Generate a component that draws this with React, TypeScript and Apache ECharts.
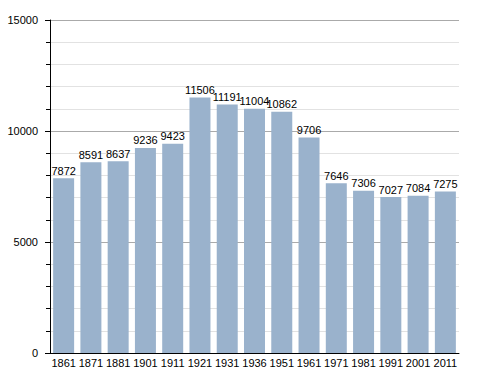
import React, { useEffect, useRef } from "react";
import * as echarts from "echarts";

const categories = ["1861", "1871", "1881", "1901", "1911", "1921", "1931", "1936", "1951", "1961", "1971", "1981", "1991", "2001", "2011"];
const population = [7872, 8591, 8637, 9236, 9423, 11506, 11191, 11004, 10862, 9706, 7646, 7306, 7027, 7084, 7275];

export default function App() {
  const ref = useRef<HTMLDivElement>(null);
  useEffect(() => {
    if (!ref.current) return;
    const chart = echarts.init(ref.current, undefined, { renderer: "svg" });
    chart.setOption({
      animation: false,
      textStyle: { fontFamily: "Liberation Sans, Arial, sans-serif" },
      grid: { left: 50, right: 29, top: 20, bottom: 20 },
      xAxis: {
        type: "category",
        data: categories,
        axisLine: { lineStyle: { color: "#000", width: 1 } },
        axisTick: { show: false },
        axisLabel: { color: "#000", fontSize: 11, margin: 4, interval: 0 },
      },
      yAxis: {
        type: "value",
        min: 0,
        max: 15000,
        interval: 5000,
        axisLine: { show: true, lineStyle: { color: "#000", width: 1 } },
        axisTick: { show: true, length: 5, lineStyle: { color: "#000" } },
        minorTick: { show: true, splitNumber: 5, length: 4, lineStyle: { color: "#000" } },
        axisLabel: { color: "#000", fontSize: 11, margin: 12, formatter: (v: number) => String(v) },
        splitLine: { show: true, lineStyle: { color: "#aaaaaa", width: 1 } },
        minorSplitLine: { show: true, lineStyle: { color: "#e2e2e2", width: 1 } },
      },
      series: [
        {
          type: "bar",
          data: population,
          barCategoryGap: "23%",
          itemStyle: { color: "#9ab2cc" },
          label: { show: true, position: "top", color: "#000", fontSize: 11, distance: 2 },
        },
      ],
    });
    return () => chart.dispose();
  }, []);
  return <div ref={ref} style={{ width: 488, height: 373, position: "absolute", left: 0, top: 0 }} />;
}
